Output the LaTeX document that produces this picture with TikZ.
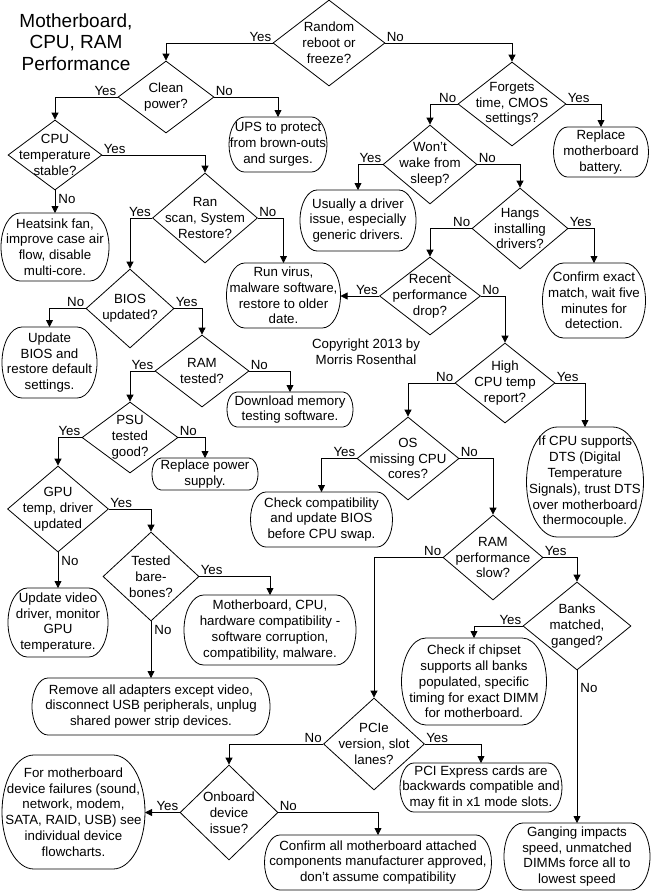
\documentclass[tikz,border=0pt]{standalone}
\usepackage{fontspec}
\setmainfont{Liberation Sans}
\usetikzlibrary{arrows.meta,shapes.geometric,calc}

\begin{document}
\begin{tikzpicture}[x=1pt,y=-1pt,line width=0.8pt,
  font=\fontsize{13.3}{15.8}\selectfont,
  dec/.style={diamond,draw,align=center,inner sep=-30pt},
  term/.style={rectangle,align=center,inner sep=0pt,outer sep=0pt},
  arr/.style={-{Triangle[length=7pt,width=7pt]}},
  lbl left/.style={anchor=south east,inner sep=1pt},
  lbl right/.style={anchor=south west,inner sep=1pt},
  lbl below/.style={anchor=north west,inner sep=1pt,xshift=2pt,yshift=-3pt}]
  \useasboundingbox (0,0) rectangle (651,892);
  \node[align=center,font=\fontsize{19}{21.5}\selectfont] (title) at (76,42) {Motherboard,\\CPU, RAM\\Performance};
  \node[align=center] (copy) at (366,352) {Copyright 2013 by\\Morris Rosenthal};
  % decisions
  \node[dec,minimum width=112pt,minimum height=86pt] (rnd) at (329,43) {Random\\reboot or\\freeze?};
  \node[dec,minimum width=96pt,minimum height=72pt] (clean) at (166,97) {Clean\\power?};
  \node[dec,minimum width=94pt,minimum height=70pt] (cput) at (55,155) {CPU\\temperature\\stable?};
  \node[dec,minimum width=105pt,minimum height=90pt] (scan) at (205,218) {Ran\\scan, System\\Restore?};
  \node[dec,minimum width=88pt,minimum height=79pt] (bios) at (130,308.5) {BIOS\\updated?};
  \node[dec,minimum width=94pt,minimum height=72pt] (ramt) at (202,371) {RAM\\tested?};
  \node[dec,minimum width=96pt,minimum height=71pt] (psu) at (130,437.5) {PSU\\tested\\good?};
  \node[dec,minimum width=101pt,minimum height=86pt] (gpu) at (58,509) {GPU\\temp, driver\\updated};
  \node[dec,minimum width=96pt,minimum height=89pt] (bare) at (151,576.5) {Tested\\bare-\\bones?};
  \node[dec,minimum width=108pt,minimum height=84pt] (cmos) at (512,104) {Forgets\\time, CMOS\\settings?};
  \node[dec,minimum width=94pt,minimum height=79pt] (wake) at (430,164.5) {Won't\\wake from\\sleep?};
  \node[dec,minimum width=96pt,minimum height=81pt] (hang) at (520,228.5) {Hangs\\installing\\drivers?};
  \node[dec,minimum width=101pt,minimum height=78pt] (recent) at (430,296) {Recent\\performance\\drop?};
  \node[dec,minimum width=100pt,minimum height=80pt] (hcpu) at (505,383) {High\\CPU temp\\report?};
  \node[dec,minimum width=102pt,minimum height=83pt] (os) at (408,458.5) {OS\\missing CPU\\cores?};
  \node[dec,minimum width=100pt,minimum height=85pt] (ramp) at (493,557.5) {RAM\\performance\\slow?};
  \node[dec,minimum width=108pt,minimum height=88pt] (banks) at (577,626) {Banks\\matched,\\ganged?};
  \node[dec,minimum width=101pt,minimum height=92pt] (pcie) at (374,744) {PCIe\\version, slot\\lanes?};
  \node[dec,minimum width=98pt,minimum height=95pt] (onb) at (229,812.5) {Onboard\\device\\issue?};
  % end boxes
  \node[term,minimum width=98pt,minimum height=55pt] (ups) at (278,144.5) {UPS to protect\\from brown-outs\\and surges.};
  \node[term,minimum width=108pt,minimum height=68pt] (heat) at (55,247) {Heatsink fan,\\improve case air\\flow, disable\\multi-core.};
  \node[term,minimum width=114pt,minimum height=65pt] (virus) at (283.5,295.5) {Run virus,\\malware software,\\restore to older\\date.};
  \node[term,minimum width=95pt,minimum height=71pt] (ubios) at (49.5,362.5) {Update\\BIOS and\\restore default\\settings.};
  \node[term,minimum width=126pt,minimum height=35pt] (dlmem) at (290,409.5) {Download memory\\testing software.};
  \node[term,minimum width=106pt,minimum height=32pt] (psup) at (205,474) {Replace power\\supply.};
  \node[term,minimum width=100pt,minimum height=69pt] (uvid) at (58,622.5) {Update video\\driver, monitor\\GPU\\temperature.};
  \node[term,minimum width=172pt,minimum height=70pt] (hwcomp) at (270,630) {Motherboard, CPU,\\hardware compatibility -\\software corruption,\\compatibility, malware.};
  \node[term,minimum width=238pt,minimum height=57pt] (remove) at (151,706.5) {Remove all adapters except video,\\disconnect USB peripherals, unplug\\shared power strip devices.};
  \node[term,minimum width=95pt,minimum height=50pt] (batt) at (601,152) {Replace\\motherboard\\battery.};
  \node[term,minimum width=116pt,minimum height=61pt] (driver) at (358,220.5) {Usually a driver\\issue, especially\\generic drivers.};
  \node[term,minimum width=103pt,minimum height=75pt] (exact) at (594,300.5) {Confirm exact\\match, wait five\\minutes for\\detection.};
  \node[term,minimum width=117pt,minimum height=110pt] (dts) at (585,482) {If CPU supports\\DTS (Digital\\Temperature\\Signals), trust DTS\\over motherboard\\thermocouple.};
  \node[term,minimum width=142pt,minimum height=55pt] (swap) at (321.5,519.5) {Check compatibility\\and update BIOS\\before CPU swap.};
  \node[term,minimum width=145pt,minimum height=87pt] (chipset) at (474,681.5) {Check if chipset\\supports all banks\\populated, specific\\timing for exact DIMM\\for motherboard.};
  \node[term,minimum width=162pt,minimum height=49pt] (pciex) at (481,787.5) {PCI Express cards are\\backwards compatible and\\may fit in x1 mode slots.};
  \node[term,minimum width=146pt,minimum height=67pt] (gang) at (577,856.5) {Ganging impacts\\speed, unmatched\\DIMMs force all to\\lowest speed};
  \node[term,minimum width=143pt,minimum height=114pt] (formb) at (73.5,812) {For motherboard\\device failures (sound,\\network, modem,\\SATA, RAID, USB) see\\individual device\\flowcharts.};
  \node[term,minimum width=227pt,minimum height=55pt] (attach) at (378,862.5) {Confirm all motherboard attached\\components manufacturer approved,\\don't assume compatibility};
  \foreach \b in {ups,heat,virus,ubios,dlmem,psup,uvid,hwcomp,remove,batt,driver,exact,dts,swap,chipset,pciex,gang,formb,attach}
    \draw let \p1=(\b.north west), \p2=(\b.south east), \n1={0.28*(\y1-\y2)}, \n2={0.5*(\y1-\y2)} in
      (\x1+\n1,\y1) -- (\x2-\n1,\y1) arc[start angle=90,end angle=-90,x radius={\n1+0pt},y radius={\n2+0pt}]
      -- (\x1+\n1,\y2) arc[start angle=270,end angle=90,x radius={\n1+0pt},y radius={\n2+0pt}] -- cycle;
  % left branch
  \draw[arr] (rnd.west) node[lbl left] (y-rnd) {Yes} -| (clean.north);
  \draw[arr] (clean.west) node[lbl left] (y-clean) {Yes} -| (cput.north);
  \draw[arr] (clean.east) node[lbl right] (n-clean) {No} -| (ups.north);
  \draw[arr] (cput.east) node[lbl right] (y-cput) {Yes} -| (scan.north);
  \draw[arr] (cput.south) node[lbl below] (n-cput) {No} -- (heat.north);
  \draw[arr] (scan.west) node[lbl left] (y-scan) {Yes} -| (bios.north);
  \draw[arr] (scan.east) node[lbl right] (n-scan) {No} -| (virus.north);
  \draw[arr] (bios.west) node[lbl left] (n-bios) {No} -| (ubios.north);
  \draw[arr] (bios.east) node[lbl right] (y-bios) {Yes} -| (ramt.north);
  \draw[arr] (ramt.west) node[lbl left] (y-ramt) {Yes} -| (psu.north);
  \draw[arr] (ramt.east) node[lbl right] (n-ramt) {No} -| (dlmem.north);
  \draw[arr] (psu.west) node[lbl left] (y-psu) {Yes} -| (gpu.north);
  \draw[arr] (psu.east) node[lbl right] (n-psu) {No} -| (psup.north);
  \draw[arr] (gpu.east) node[lbl right] (y-gpu) {Yes} -| (bare.north);
  \draw[arr] (gpu.south) node[lbl below] (n-gpu) {No} -- (uvid.north);
  \draw[arr] (bare.east) node[lbl right] (y-bare) {Yes} -| (hwcomp.north);
  \draw[arr] (bare.south) node[lbl below] (n-bare) {No} -- (remove.north);
  % right branch
  \draw[arr] (rnd.east) node[lbl right] (n-rnd) {No} -| (cmos.north);
  \draw[arr] (cmos.west) node[lbl left] (n-cmos) {No} -| (wake.north);
  \draw[arr] (cmos.east) node[lbl right] (y-cmos) {Yes} -| (batt.north);
  \draw[arr] (wake.west) node[lbl left] (y-wake) {Yes} -| (driver.north);
  \draw[arr] (wake.east) node[lbl right] (n-wake) {No} -| (hang.north);
  \draw[arr] (hang.west) node[lbl left] (n-hang) {No} -| (recent.north);
  \draw[arr] (hang.east) node[lbl right] (y-hang) {Yes} -| (exact.north);
  \draw[arr] (recent.west) node[lbl left] (y-recent) {Yes} -- (recent.west -| virus.east);
  \draw[arr] (recent.east) node[lbl right] (n-recent) {No} -| (hcpu.north);
  \draw[arr] (hcpu.west) node[lbl left] (n-hcpu) {No} -| (os.north);
  \draw[arr] (hcpu.east) node[lbl right] (y-hcpu) {Yes} -| (dts.north);
  \draw[arr] (os.west) node[lbl left] (y-os) {Yes} -| (swap.north);
  \draw[arr] (os.east) node[lbl right] (n-os) {No} -| (ramp.north);
  \draw[arr] (ramp.west) node[lbl left] (n-ramp) {No} -| (pcie.north);
  \draw[arr] (ramp.east) node[lbl right] (y-ramp) {Yes} -| (banks.north);
  \draw[arr] (banks.west) node[lbl left] (y-banks) {Yes} -| (chipset.north);
  \draw[arr] (banks.south) node[lbl below,yshift=-9pt] (n-banks) {No} -- (gang.north);
  \draw[arr] (pcie.west) node[lbl left] (n-pcie) {No} -| (onb.north);
  \draw[arr] (pcie.east) node[lbl right] (y-pcie) {Yes} -| (pciex.north);
  \draw[arr] (onb.west) node[lbl left] (y-onb) {Yes} -- (onb.west -| formb.east);
  \draw[arr] (onb.east) node[lbl right] (n-onb) {No} -| (attach.north);
\end{tikzpicture}
\end{document}
